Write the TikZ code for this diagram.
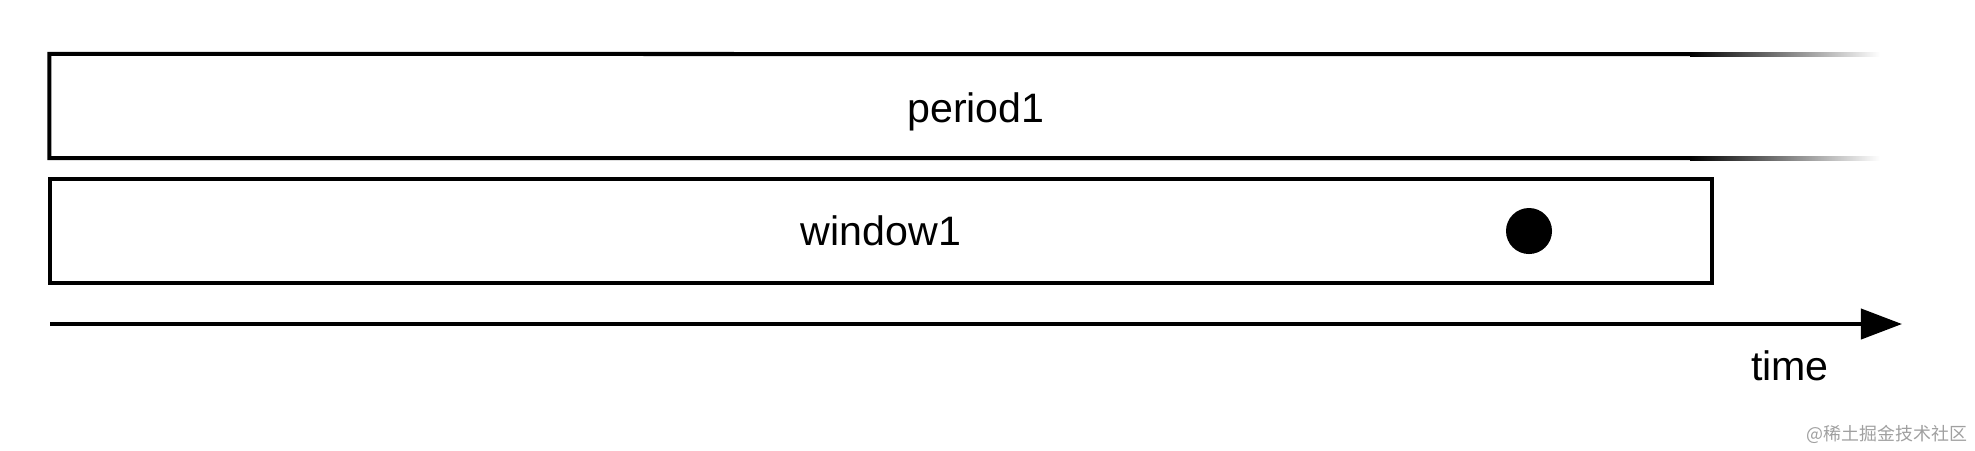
\documentclass[tikz,border=0pt]{standalone}
\usepackage{fontspec}
\setmainfont{Liberation Sans}
\newfontfamily\cjkfont{Noto Sans CJK SC}
\usetikzlibrary{arrows.meta,positioning}
\definecolor{tlink}{HTML}{000000}
\definecolor{tlmark}{HTML}{A0A0A0}
\tikzset{%
  tlbox/.style={%
    draw=tlink,
    line width=0.04cm,
    minimum height=1.04cm,
    inner sep=0pt,
    font=\fontsize{11.7}{14}\selectfont
  },
  tlopen/.style={%
    tlbox,
    draw=none,
    outer sep=0pt
  },
  tlrule/.style={draw=tlink,line width=0.04cm},
  tlevent/.style={circle,fill=tlink,minimum size=0.46cm,inner sep=0pt},
  tlaxis/.style={-{Triangle[length=0.41cm,width=0.3cm]},line width=0.04cm,draw=tlink},
  tllabel/.style={font=\fontsize{11.7}{14}\selectfont,inner sep=0pt},
  tlwatermark/.style={font=\cjkfont\fontsize{5.1}{6}\selectfont,text=tlmark,inner sep=0pt}
}

\begin{document}
\begin{tikzpicture}[x=0.01cm,y=-0.01cm]
    \useasboundingbox (0,0) rectangle (1975,450);
    \node[tlopen,minimum width=18.52cm] (period) at (976,106) {};
    \node[tllabel] (periodtext) at (976,112) {period1};
    \node[tlbox,minimum width=16.62cm] (window) at (881,231) {window1};
    \node[tlevent] (event) at (1529,231) {};
    \coordinate (fadetop) at (1690,54);
    \coordinate (fadebot) at (1690,158);
    \coordinate (t0) at (50,324);
    \coordinate (t1) at (1902,324);
    \node[tllabel,anchor=base] (time) at (1790,380) {time};
    \node[tlwatermark,anchor=base east] (mark) at (1968,440) {@稀土掘金技术社区};

    % period has no right edge: its top and bottom fade out
    \draw[tlrule] (fadetop) -- (period.north west) -- (period.south west) -- (fadebot);
    \shade[left color=tlink,right color=white] (1690,52) rectangle (1880,56);
    \shade[left color=tlink,right color=white] (1690,156) rectangle (1880,160);
    \draw[tlaxis] (t0) -- (t1);
  \end{tikzpicture}
\end{document}
